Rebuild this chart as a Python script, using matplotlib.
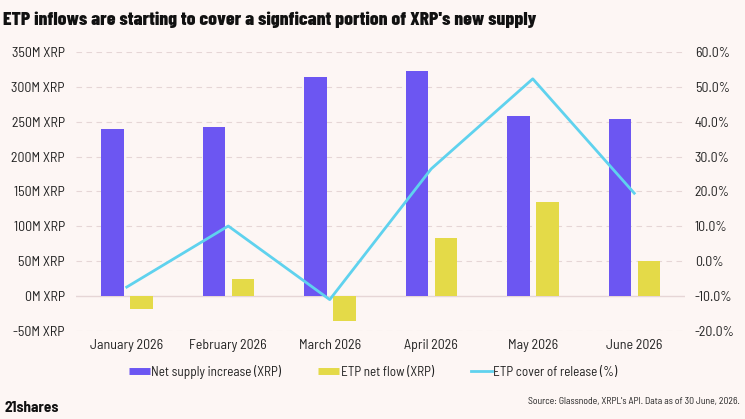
import numpy as np
import matplotlib
matplotlib.use("Agg")
import matplotlib.pyplot as plt
from matplotlib import font_manager
from matplotlib.lines import Line2D

months = ["January 2026", "February 2026", "March 2026",
          "April 2026", "May 2026", "June 2026"]
net_supply = [240, 242, 314, 322, 258, 254]      # M XRP
etp_flow = [-18, 24, -35, 83, 135, 50]           # M XRP
etp_cover = [-7.4, 10.1, -11.0, 26.5, 52.3, 19.5]  # %

left_ticks = [-50, 0, 50, 100, 150, 200, 250, 300, 350]
right_ticks = [-20, -10, 0, 10, 20, 30, 40, 50, 60]

# condensed fonts if there are any, else plain DejaVu
names = {f.name for f in font_manager.fontManager.ttflist}
fam = "DejaVu Sans"
for cand in ["Barlow Semi Condensed", "Liberation Sans Narrow", "Archivo Narrow"]:
    if cand in names:
        fam = cand
        break
title_fam = "Barlow Condensed" if "Barlow Condensed" in names else fam
plt.rcParams["font.family"] = [fam, "DejaVu Sans"]

bg = "#fdf6f4"
purple = "#6c56f2"
yellow = "#e4da48"
cyan = "#5fd2ee"
grid_c = "#e6d6d6"
txt = "#222222"

fig = plt.figure(figsize=(7.45, 4.19), dpi=100, facecolor=bg)
ax = fig.add_axes([0.102, 0.21, 0.8175, 0.666])
ax.set_facecolor(bg)

x = np.arange(len(months))
ax.bar(x - 0.14, net_supply, width=0.22, color=purple, zorder=2)
ax.bar(x + 0.145, etp_flow, width=0.225, color=yellow, zorder=2)

ax.set_xlim(-0.5, len(months) - 0.5)
ax.set_ylim(-50, 350)
ax.set_yticks(left_ticks)
ax.set_yticklabels([f"{v}M XRP" for v in left_ticks])
ax.set_xticks(x)
ax.set_xticklabels(months)

for v in left_ticks:
    if v == 0:
        ax.axhline(v, color=grid_c, lw=1, zorder=1)
    else:
        ax.axhline(v, color=grid_c, lw=0.8, ls=(0, (5, 4)), zorder=1)

ax2 = ax.twinx()
ax2.plot(x, etp_cover, color=cyan, lw=2, zorder=3)
ax2.set_ylim(-20, 60)
ax2.set_yticks(right_ticks)
ax2.set_yticklabels([f"{v:.1f}%" for v in right_ticks])

for a in (ax, ax2):
    for s in a.spines.values():
        s.set_visible(False)
    a.tick_params(length=0, labelsize=10, colors=txt)
ax.tick_params(axis="y", pad=8)
ax.tick_params(axis="x", pad=6)
ax2.tick_params(axis="y", pad=7)

fig.text(0.004, 1 - 20 / 419, "ETP inflows are starting to cover a signficant portion of XRP's new supply",
         fontsize=14.1, fontweight=800, family=[title_fam, "DejaVu Sans"],
         color="#111111", va="center")

handles = [
    Line2D([], [], color=purple, lw=5, solid_capstyle="butt"),
    Line2D([], [], color=yellow, lw=5, solid_capstyle="butt"),
    Line2D([], [], color=cyan, lw=2),
]
labels = ["Net supply increase (XRP)", "ETP net flow (XRP)", "ETP cover of release (%)"]
fig.legend(handles, labels, loc="center", bbox_to_anchor=(0.501, 1 - 371.5 / 419),
           ncol=3, frameon=False, fontsize=9.5, handlelength=1.6,
           handletextpad=0.1, columnspacing=2.8, labelcolor=txt)

fig.text(0.006, 1 - 408 / 419, "21shares", fontsize=11, fontweight="bold",
         color="#111111", va="center")
fig.text(0.993, 1 - 401 / 419, "Source: Glassnode, XRPL's API. Data as of 30 June, 2026.",
         fontsize=7, color=txt, ha="right", va="center")

fig.savefig("out.png", dpi=100, facecolor=bg)
